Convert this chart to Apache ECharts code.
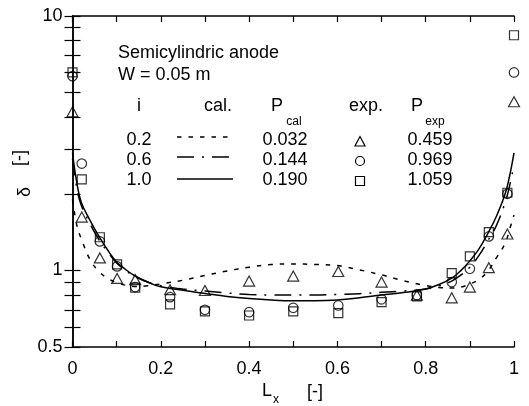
<!DOCTYPE html>
<html><head><meta charset="utf-8">
<script src="https://cdn.jsdelivr.net/npm/echarts@6/dist/echarts.min.js"></script>
<style>html,body{margin:0;padding:0;background:#fff}#c{width:529px;height:406px}</style>
</head><body><div id="c"></div>
<script>
// ---- data ----
const expX   = [0, 0.021, 0.062, 0.101, 0.142, 0.221, 0.300, 0.400, 0.500, 0.602, 0.700, 0.780, 0.859, 0.900, 0.943, 0.985, 1.0];
const expTri = [4.2, 1.62, 1.12, 0.93, 0.92, 0.84, 0.834, 0.908, 0.95, 0.99, 0.90, 0.80, 0.78, 0.86, 1.025, 1.39, 4.6];
const expCir = [5.8, 2.63, 1.30, 1.037, 0.86, 0.785, 0.70, 0.685, 0.713, 0.728, 0.77, 0.80, 0.90, 1.015, 1.36, 2.0, 6.0];
const expSq  = [6.0, 2.28, 1.35, 1.056, 0.855, 0.735, 0.69, 0.665, 0.69, 0.68, 0.75, 0.79, 0.976, 1.135, 1.415, 2.02, 8.4];

const curveX = [0, 0.01, 0.02, 0.04, 0.06, 0.08, 0.10, 0.12, 0.14, 0.17, 0.20, 0.25, 0.30, 0.35, 0.40, 0.45, 0.50, 0.55, 0.60, 0.65, 0.70, 0.75, 0.80, 0.83, 0.86, 0.88, 0.90, 0.92, 0.94, 0.96, 0.98, 0.99, 1.0];
const calc02 = [1.9, 1.5, 1.33, 1.1, 0.99, 0.93, 0.895, 0.875, 0.865, 0.87, 0.885, 0.915, 0.955, 0.995, 1.03, 1.055, 1.06, 1.055, 1.045, 1.005, 0.96, 0.91, 0.872, 0.857, 0.852, 0.86, 0.885, 0.92, 0.99, 1.12, 1.28, 1.45, 1.65];
const calc06 = [2.75, 2.1, 1.8, 1.52, 1.32, 1.18, 1.07, 1.0, 0.95, 0.90, 0.87, 0.845, 0.83, 0.815, 0.805, 0.80, 0.80, 0.80, 0.805, 0.81, 0.82, 0.83, 0.845, 0.87, 0.91, 0.96, 1.03, 1.14, 1.3, 1.5, 1.85, 2.15, 2.6];
const calc10 = [2.9, 2.2, 1.85, 1.57, 1.36, 1.20, 1.08, 1.01, 0.955, 0.90, 0.862, 0.835, 0.812, 0.79, 0.775, 0.765, 0.76, 0.76, 0.765, 0.78, 0.80, 0.818, 0.845, 0.88, 0.935, 1.0, 1.09, 1.21, 1.39, 1.63, 2.0, 2.35, 2.9];

const xLabelValues = [0, 0.2, 0.4, 0.6, 0.8, 1];
const yTickValues  = [0.5, 0.6, 0.7, 0.8, 0.9, 1, 2, 3, 4, 5, 6, 7, 8, 9, 10];
const yLabelValues = [0.5, 1, 10];

const legendTitle = 'Semicylindric anode';
const legendSub   = 'W = 0.05 m';
const legendI     = ['0.2', '0.6', '1.0'];
const legendPcal  = ['0.032', '0.144', '0.190'];
const legendPexp  = ['0.459', '0.969', '1.059'];

// ---- build ----
const FONT = '"Liberation Sans", Arial, Helvetica, sans-serif';
const pairs = (xs, ys) => xs.map((x, k) => [x, ys[k]]);
const dashShort = [4.5, 7];
const dashDot = [17, 8, 2, 8];

const chart = echarts.init(document.getElementById('c'), null, {renderer: 'canvas'});

const axisLine = {show: true, lineStyle: {color: '#000', width: 1.5}};
function xAxisCfg(pos, labels) {
  return {
    type: 'value', position: pos, min: 0, max: 1, interval: 0.1,
    axisLine: axisLine, splitLine: {show: false},
    axisTick: {show: true, inside: true, length: 6, lineStyle: {color: '#000', width: 1.2}},
    axisLabel: labels ? {
      show: true, margin: 13, color: '#000', fontSize: 18, fontFamily: FONT,
      customValues: xLabelValues,
      formatter: v => String(Math.round(v * 10) / 10)
    } : {show: false}
  };
}
function yAxisCfg(pos, labels) {
  return {
    type: 'log', logBase: 10, position: pos, min: 0.5, max: 10,
    axisLine: axisLine, splitLine: {show: false},
    axisTick: {show: true, inside: true, length: 8, customValues: yTickValues, lineStyle: {color: '#000', width: 1.2}},
    minorTick: {show: false},
    axisLabel: labels ? {
      show: true, margin: 10, color: '#000', fontSize: 18, fontFamily: FONT,
      customValues: yLabelValues,
      formatter: v => String(Math.round(v * 10) / 10)
    } : {show: false}
  };
}

function txt(text, x, y, size, align, extra) {
  return Object.assign({
    type: 'text', x: x, y: y, silent: true,
    style: {text: text, font: size + 'px ' + FONT, fill: '#000',
      textAlign: align || 'center', textVerticalAlign: 'middle',
      align: align || 'center', verticalAlign: 'middle'}
  }, extra || {});
}

const rowsY = [140, 160, 180];
const graphics = [];
graphics.push(txt(legendTitle, 118, 53, 18, 'left'));
graphics.push(txt(legendSub, 118, 75, 18, 'left'));
graphics.push(txt('i', 139, 106, 18));
graphics.push(txt('cal.', 218, 106, 18));
graphics.push(txt('P', 277, 106, 18));
graphics.push(txt('cal', 294, 122, 12));
graphics.push(txt('exp.', 366, 106, 18));
graphics.push(txt('P', 417, 106, 18));
graphics.push(txt('exp', 435, 122, 12));
const lineDashes = [dashShort, dashDot, null];
const lineYs = [137, 157, 179];
for (let k = 0; k < 3; k++) {
  graphics.push(txt(legendI[k], 139, rowsY[k], 18));
  graphics.push(txt(legendPcal[k], 285, rowsY[k], 18));
  graphics.push(txt(legendPexp[k], 430, rowsY[k], 18));
  graphics.push({type: 'line', silent: true,
    shape: {x1: 177, y1: lineYs[k], x2: 233, y2: lineYs[k]},
    style: {stroke: '#000', lineWidth: 1.5, lineDash: lineDashes[k] || null}});
}
graphics.push({type: 'polygon', silent: true, shape: {points: [[360, 136.5], [355, 146], [365, 146]]},
  style: {fill: 'none', stroke: '#000', lineWidth: 1.2}});
graphics.push({type: 'circle', silent: true, shape: {cx: 360, cy: 161, r: 4.5},
  style: {fill: 'none', stroke: '#000', lineWidth: 1.2}});
graphics.push({type: 'rect', silent: true, shape: {x: 355.5, y: 176.5, width: 9, height: 9},
  style: {fill: 'none', stroke: '#000', lineWidth: 1.2}});
// axis names
graphics.push(txt('δ', 25, 192, 18, 'center', {rotation: Math.PI / 2}));
graphics.push(txt('[-]', 20, 158, 18, 'center', {rotation: Math.PI / 2}));
graphics.push(txt('L', 267, 391, 18));
graphics.push(txt('x', 276, 400, 12));
graphics.push(txt('[-]', 315, 392, 18));

const symStyle = {color: 'rgba(0,0,0,0)', borderColor: '#000', borderWidth: 1.2};
function calcSeries(name, ys, dash) {
  return {name: name, type: 'line', data: pairs(curveX, ys), showSymbol: false, smooth: 0.4,
    xAxisIndex: 0, yAxisIndex: 0, silent: true, animation: false,
    lineStyle: {color: '#000', width: 1.5, type: dash || 'solid'}};
}
function expSeries(name, ys, sym, size) {
  return {name: name, type: 'scatter', data: pairs(expX, ys), symbol: sym, symbolSize: size,
    xAxisIndex: 0, yAxisIndex: 0, silent: true, animation: false, itemStyle: symStyle, z: 5};
}

chart.setOption({
  backgroundColor: '#fff',
  animation: false,
  grid: {left: 72.5, right: 15, top: 16, bottom: 59, containLabel: false},
  xAxis: [xAxisCfg('bottom', true), xAxisCfg('top', false)],
  yAxis: [yAxisCfg('left', true), yAxisCfg('right', false)],
  graphic: graphics,
  series: [
    calcSeries('cal 0.2', calc02, dashShort),
    calcSeries('cal 0.6', calc06, dashDot),
    calcSeries('cal 1.0', calc10, null),
    expSeries('exp 0.2', expTri, 'triangle', [11, 10]),
    expSeries('exp 0.6', expCir, 'circle', 9.5),
    expSeries('exp 1.0', expSq, 'rect', 9)
  ]
});
</script>
</body></html>
